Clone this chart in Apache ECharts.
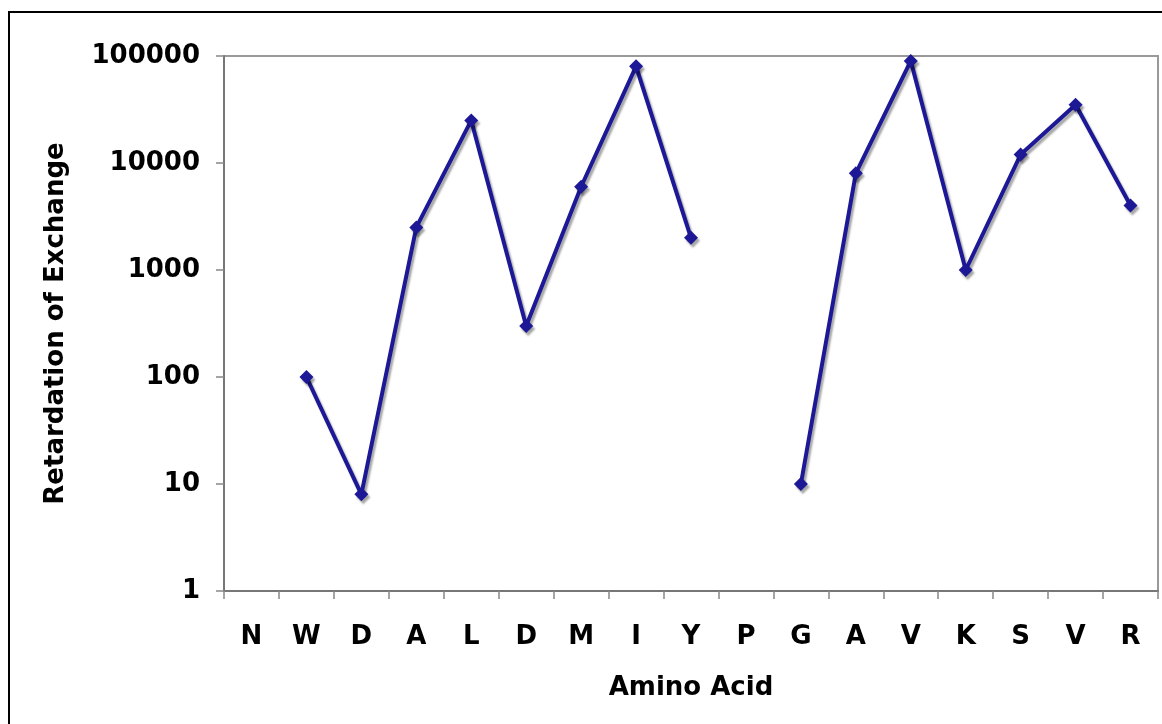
<!DOCTYPE html>
<html>
<head>
<meta charset="utf-8">
<script src="https://cdn.jsdelivr.net/npm/echarts@6/dist/echarts.min.js"></script>
<style>
html,body{margin:0;padding:0;background:#fff;}
#chart{width:1162px;height:724px;}
</style>
</head>
<body>
<div id="chart"></div>
<script>
const categories = ['N','W','D','A','L','D','M','I','Y','P','G','A','V','K','S','V','R'];
const retardation = [null,100,8,2500,25000,300,6000,80000,2000,null,10,8000,90000,1000,12000,35000,4000];
const yTicks = [1,10,100,1000,10000,100000];

const chart = echarts.init(document.getElementById('chart'));
const font = 'DejaVu Sans, Verdana, sans-serif';
chart.setOption({
  animation: false,
  backgroundColor: '#fff',
  graphic: [{
    type: 'rect',
    shape: {x: 9, y: 12, width: 1170, height: 730},
    style: {fill: 'none', stroke: '#000', lineWidth: 2},
    silent: true
  }],
  grid: {
    left: 224, top: 56, right: 4, bottom: 133,
    show: true, borderColor: '#999', borderWidth: 2, backgroundColor: 'transparent'
  },
  xAxis: {
    type: 'category',
    data: categories,
    boundaryGap: true,
    name: 'Amino Acid',
    nameLocation: 'middle',
    nameGap: 84,
    nameTextStyle: {fontFamily: font, fontWeight: 'bold', fontSize: 26, color: '#000'},
    axisLine: {lineStyle: {color: '#777', width: 2}},
    axisTick: {show: true, length: 8, lineStyle: {color: '#888', width: 1.5}, alignWithLabel: false},
    axisLabel: {fontFamily: font, fontWeight: 'bold', fontSize: 26, color: '#000', margin: 33}
  },
  yAxis: {
    type: 'log',
    logBase: 10,
    min: yTicks[0],
    max: yTicks[yTicks.length - 1],
    name: 'Retardation of Exchange',
    nameLocation: 'middle',
    nameGap: 155,
    nameTextStyle: {fontFamily: font, fontWeight: 'bold', fontSize: 26, color: '#000'},
    axisLine: {show: true, lineStyle: {color: '#777', width: 2}},
    axisTick: {show: true, length: 8, lineStyle: {color: '#888', width: 1.5}},
    axisLabel: {fontFamily: font, fontWeight: 'bold', fontSize: 26, color: '#000', margin: 24,
      formatter: v => String(Math.round(v))},
    splitLine: {show: false}
  },
  series: [{
    type: 'line',
    data: retardation,
    connectNulls: false,
    symbol: 'diamond',
    symbolSize: 14,
    lineStyle: {color: '#1c1896', width: 4, shadowColor: 'rgba(0,0,0,0.35)', shadowOffsetX: 2, shadowOffsetY: 3, shadowBlur: 2},
    itemStyle: {color: '#1c1896', shadowColor: 'rgba(0,0,0,0.35)', shadowOffsetX: 2, shadowOffsetY: 3, shadowBlur: 2}
  }]
});
</script>
</body>
</html>
